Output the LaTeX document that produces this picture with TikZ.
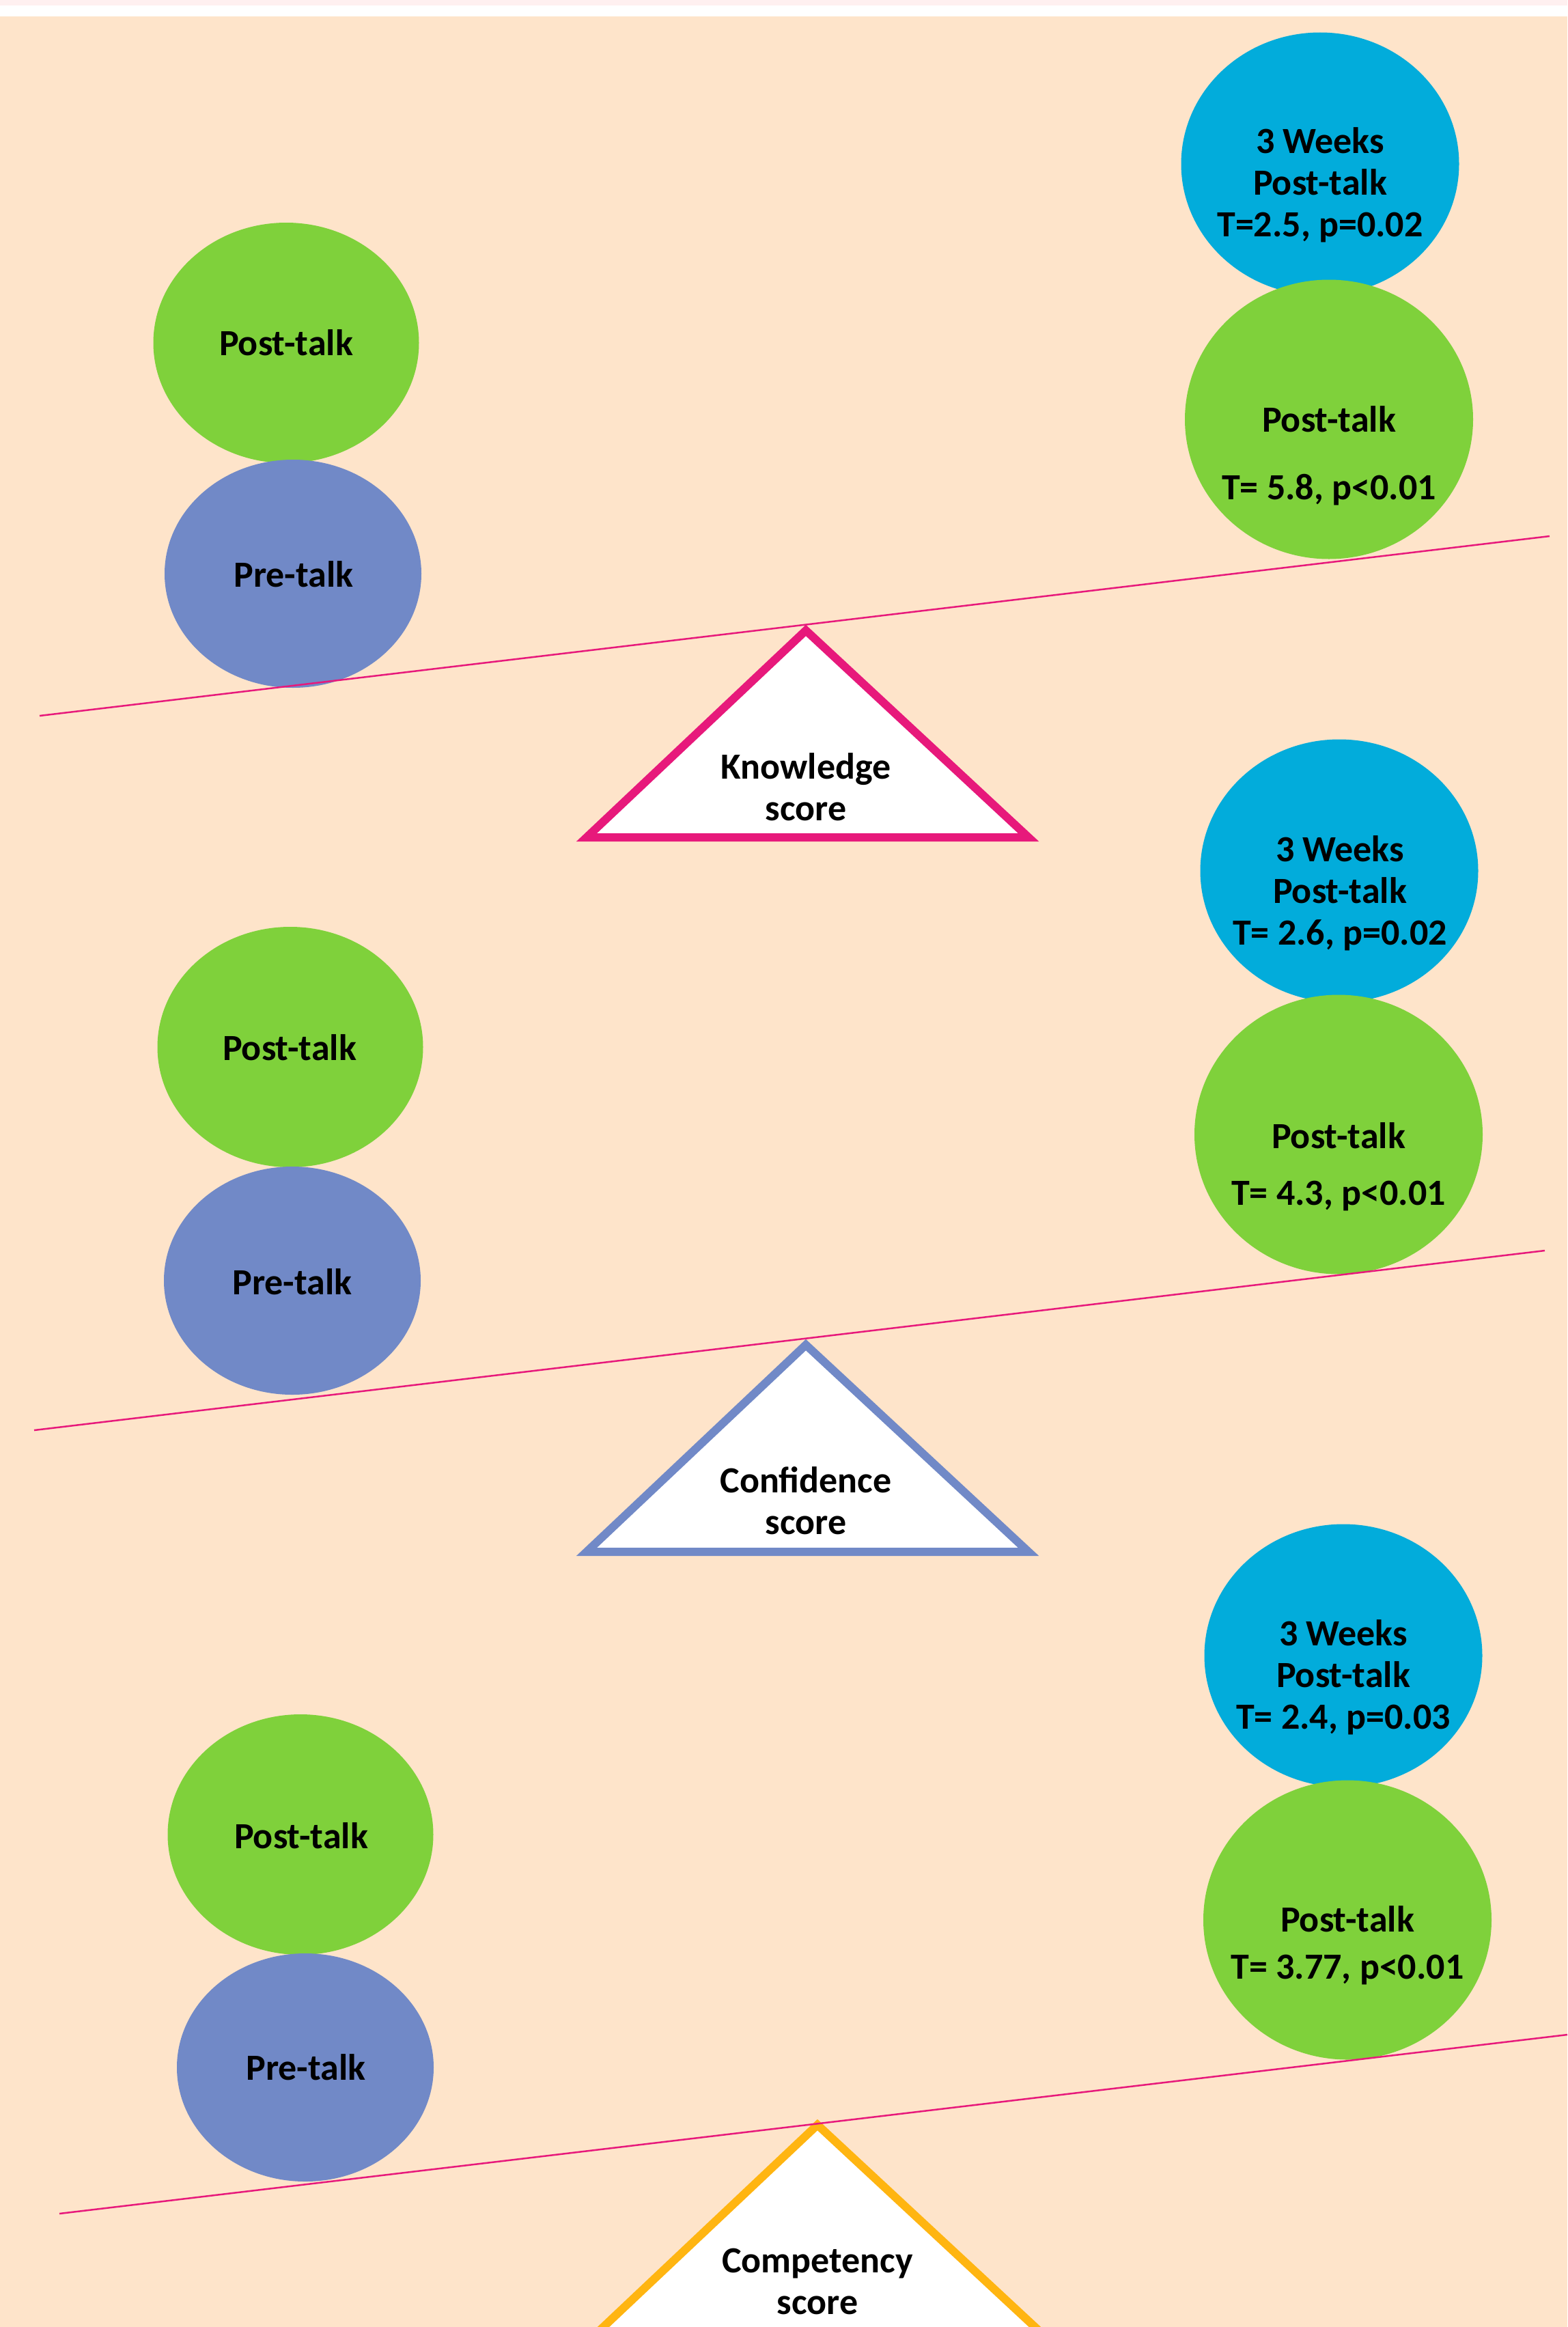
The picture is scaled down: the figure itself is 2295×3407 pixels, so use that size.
\documentclass[tikz,border=0pt]{standalone}
\usepackage{fontspec}
\setmainfont{Carlito}
\usetikzlibrary{shapes.geometric}

\definecolor{peach}{HTML}{FEE4CA}
\definecolor{palepink}{HTML}{FFF0F0}
\definecolor{limeball}{HTML}{7FD13B}
\definecolor{cyanball}{HTML}{02ACDB}
\definecolor{lavball}{HTML}{7189C7}
\definecolor{beampink}{HTML}{E7197B}
\definecolor{goldtri}{HTML}{FFB511}

\tikzset{
  ball/.style={ellipse, inner sep=0pt, draw=none},
  postball/.style={ball, fill=limeball, minimum width=389pt, minimum height=352pt},
  preball/.style={ball, fill=lavball, minimum width=376pt, minimum height=334pt},
  weekball/.style={ball, fill=cyanball, minimum width=407pt, minimum height=385pt},
  rightball/.style={ball, fill=limeball, minimum width=422pt, minimum height=409pt},
  txt/.style={font=\bfseries\fontsize{54}{61}\selectfont, align=center, inner sep=0pt},
  fulcrum/.style={line width=12pt, line join=miter, fill=white},
  beam/.style={draw=beampink, line width=2.5pt}
}

\begin{document}
\begin{tikzpicture}[x=1pt, y=-1pt]
  \useasboundingbox (0,0) rectangle (2295,3407);
  \clip (0,0) rectangle (2295,3407);
  \fill[palepink] (0,0) rectangle (2295,8);
  \fill[white] (0,8) rectangle (2295,24);
  \fill[peach] (0,24) rectangle (2295,3407);

  % knowledge
  \node[weekball] (k3w) at (1933,240) {};
  \node[rightball] (kpr) at (1946,614) {};
  \node[postball] (kpl) at (419,502) {};
  \node[preball] (kpre) at (429,840) {};
  \node[txt] (k3wt) at (1933,271) {3 Weeks\\Post-talk\\T=2.5, p=0.02};
  \node[txt] (kprt) at (1946,667) {Post-talk\\[38pt]T= 5.8, p<0.01};
  \node[txt] (kplt) at (419,502) {Post-talk};
  \node[txt] (kpret) at (430,841) {Pre-talk};
  \draw[fulcrum, draw=beampink] (1180,923) -- (1506,1226) -- (859,1226) -- cycle;
  \node[txt] (ktri) at (1180,1152) {Knowledge\\score};
  \coordinate (kbl) at (58,1048);
  \coordinate (kbr) at (2269,785);
  \draw[beam] (kbl) -- (kbr);

  % confidence
  \node[weekball] (c3w) at (1961,1275) {};
  \node[rightball] (cpr) at (1960,1661) {};
  \node[postball] (cpl) at (425,1533) {};
  \node[preball] (cpre) at (428,1875) {};
  \node[txt] (c3wt) at (1962,1308) {3 Weeks\\Post-talk\\T= 2.6, p=0.02};
  \node[txt] (cprt) at (1960,1708) {Post-talk\\[22pt]T= 4.3, p<0.01};
  \node[txt] (cplt) at (424,1534) {Post-talk};
  \node[txt] (cpret) at (428,1877) {Pre-talk};
  \draw[fulcrum, draw=lavball] (1180,1969) -- (1506,2272) -- (859,2272) -- cycle;
  \node[txt] (ctri) at (1180,2197) {Confidence\\score};
  \coordinate (cbl) at (50,2094);
  \coordinate (cbr) at (2262,1831);
  \draw[beam] (cbl) -- (cbr);

  % competency
  \node[weekball] (p3w) at (1967,2424) {};
  \node[rightball] (ppr) at (1973,2811) {};
  \node[postball] (ppl) at (440,2686) {};
  \node[preball] (ppre) at (447,3027) {};
  \node[txt] (p3wt) at (1967,2456) {3 Weeks\\Post-talk\\T= 2.4, p=0.03};
  \node[txt] (pprt) at (1973,2848) {Post-talk\\[8pt]T= 3.77, p<0.01};
  \node[txt] (pplt) at (441,2688) {Post-talk};
  \node[txt] (ppret) at (448,3027) {Pre-talk};
  \draw[fulcrum, draw=goldtri] (1197,3111) -- (1523,3414) -- (876,3414) -- cycle;
  \node[txt] (ptri) at (1197,3340) {Competency\\score};
  \coordinate (pbl) at (87,3241);
  \coordinate (pbr) at (2295,2979);
  \draw[beam] (pbl) -- (pbr);
\end{tikzpicture}
\end{document}
